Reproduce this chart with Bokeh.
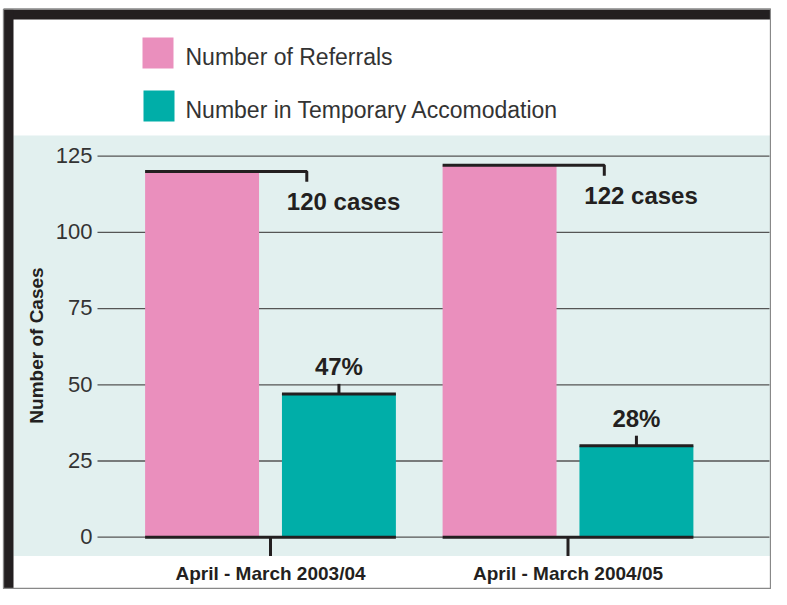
import numpy as np
from bokeh.plotting import figure
from bokeh.models import Range1d
from bokeh.core.properties import value
from bokeh.embed import file_html
from bokeh.resources import INLINE

# ---- data ----
categories = ["April - March 2003/04", "April - March 2004/05"]
referrals = [120, 122]
temporary = [47, 30]
referral_labels = ["120 cases", "122 cases"]
temporary_labels = ["47%", "28%"]
series_names = ["Number of Referrals", "Number in Temporary Accomodation"]
y_ticks = [0, 25, 50, 75, 100, 125]
y_title = "Number of Cases"

# ---- styles ----
PINK = "#ea8fbd"
TEAL = "#00aea8"
PANEL = "#e2f0ef"
INK = "#231f20"
GRID = "#555555"
FONT = value("Liberation Sans")
SHIFT = 0.38  # baseline correction (em) for the svg text rendering

W, H = 771, 589
PX_PER_Y = 3.048
Y_HI = 536.7 / PX_PER_Y
Y_LO = Y_HI - H / PX_PER_Y
PX_PER_X = 297.5
X_LO = -270 / PX_PER_X
X_HI = X_LO + W / PX_PER_X


def XP(px):
    return X_LO + px / PX_PER_X


def YP(py):
    return Y_HI - py / PX_PER_Y


def up(fs):
    return SHIFT * fs / PX_PER_Y


p = figure(width=W, height=H, x_range=Range1d(X_LO, X_HI), y_range=Range1d(Y_LO, Y_HI),
           x_axis_location=None, y_axis_location=None, toolbar_location=None,
           output_backend="svg", min_border=0)
p.grid.visible = False
p.outline_line_color = None
p.background_fill_color = "white"
p.border_fill_color = "white"

# panel background
p.quad(left=XP(13), right=XP(800), bottom=YP(555.5), top=YP(135), fill_color=PANEL, line_color=None)

# grid lines
n = len(y_ticks)
p.segment(x0=[XP(97)] * n, x1=[XP(769)] * n, y0=y_ticks, y1=y_ticks, line_color=GRID, line_width=1.3)
p.text(x=[XP(92)] * n, y=[t - 7.7 / PX_PER_Y + up(22) for t in y_ticks], text=[str(t) for t in y_ticks],
       text_align="right", text_baseline="alphabetic", text_font=FONT, text_font_size="22px",
       text_color="#333333")

# bars
x = np.arange(len(categories))
off = 0.23
bw = 0.383
p.vbar(x=x - off, top=referrals, width=bw, fill_color=PINK, line_color=None)
p.vbar(x=x + off, top=temporary, width=bw, fill_color=TEAL, line_color=None)

# black annotation lines
xs, ys = [], []
for xi, r, t in zip(x, referrals, temporary):
    xs.append([xi - off - bw / 2, xi + 0.122, xi + 0.122]); ys.append([r, r, r - 3.4])
    xs.append([xi + off - bw / 2, xi + off + bw / 2]); ys.append([t, t])
    xs.append([xi + off, xi + off]); ys.append([t, t + 3.3])
    xs.append([xi - off - bw / 2, xi + off + bw / 2]); ys.append([0, 0])
    xs.append([xi, xi]); ys.append([0, YP(555.5)])
p.multi_line(xs=xs, ys=ys, line_color=INK, line_width=3)

# value labels
p.text(x=x + 0.055, y=[r - 12.9 + up(24) for r in referrals], text=referral_labels, text_align="left",
       text_baseline="alphabetic", text_font=FONT, text_font_style="bold", text_font_size="24px",
       text_color=INK)
p.text(x=x + off, y=[t + 6.1 + up(24) for t in temporary], text=temporary_labels, text_align="center",
       text_baseline="alphabetic", text_font=FONT, text_font_style="bold", text_font_size="24px",
       text_color=INK)

# category labels
p.text(x=x, y=[YP(580.5) + up(19)] * len(categories), text=categories, text_align="center",
       text_baseline="alphabetic", text_font=FONT, text_font_style="bold", text_font_size="19px",
       text_color=INK)

# y title (rotated: the baseline correction acts along x)
p.text(x=[XP(43.5 - SHIFT * 19)], y=[YP(345)], text=[y_title], angle=np.pi / 2, text_align="center",
       text_baseline="alphabetic", text_font=FONT, text_font_style="bold", text_font_size="19px",
       text_color=INK)

# legend
p.rect(x=[XP(157.5), XP(158.5)], y=[YP(52.5), YP(105.5)], width=31, height=31,
       width_units="screen", height_units="screen", fill_color=[PINK, TEAL], line_color=None)
p.text(x=[XP(185), XP(185)], y=[YP(65) + up(23), YP(118.3) + up(23)], text=series_names, text_align="left",
       text_baseline="alphabetic", text_font=FONT, text_font_size="23px", text_color="#333333")

# frame
p.quad(left=XP(3), right=XP(800), top=YP(9), bottom=YP(19), fill_color=INK, line_color=None)
p.quad(left=XP(3), right=XP(13), top=YP(9), bottom=YP(700), fill_color=INK, line_color=None)
p.multi_line(xs=[[XP(3), XP(770), XP(770), XP(3), XP(3)]],
             ys=[[YP(8.5), YP(8.5), YP(588), YP(588), YP(8.5)]],
             line_color="#888888", line_width=1.3)

open("out.html", "w").write(file_html(p, INLINE))
